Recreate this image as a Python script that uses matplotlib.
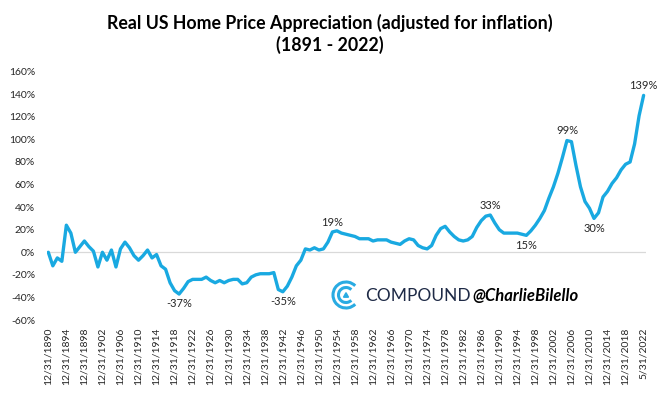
import numpy as np
import matplotlib
matplotlib.use("Agg")
import matplotlib.pyplot as plt
from matplotlib.patches import Arc, Polygon

# ==========================================
# DATA
# ==========================================
dates = [f"12/31/{y}" for y in range(1890, 2022)] + ["5/31/2022"]

real_appreciation = [
    0, -12, -5, -8, 24, 17, 0, 5, 10, 5,            # 1890-1899
    1, -13, 0, -7, 2, -13, 3, 9, 4, -3,             # 1900-1909
    -7, -3, 2, -5, -2, -12, -15, -27, -34, -37,     # 1910-1919
    -32, -26, -24, -24, -24, -22, -25, -27, -25, -27,  # 1920-1929
    -25, -24, -24, -28, -27, -22, -20, -19, -19, -19,  # 1930-1939
    -18, -33, -35, -30, -22, -12, -7, 3, 2, 4,      # 1940-1949
    2, 3, 9, 18, 19, 17, 16, 15, 14, 12,            # 1950-1959
    12, 12, 10, 11, 11, 11, 9, 8, 7, 10,            # 1960-1969
    12, 11, 6, 4, 3, 6, 15, 21, 23, 18,             # 1970-1979
    14, 11, 10, 11, 14, 22, 28, 32, 33, 26,         # 1980-1989
    20, 17, 17, 17, 17, 16, 15, 19, 24, 30,         # 1990-1999
    37, 48, 58, 70, 84, 99, 98, 77, 58, 45,         # 2000-2009
    39, 30, 35, 49, 54, 61, 66, 73, 78, 80,         # 2010-2019
    96, 121, 139,                                   # 2020, 2021, 5/2022
]

# points that carry a data label: (index, text, placement)
labelled = [(29, "-37%", "below"), (52, "-35%", "below"), (63, "19%", "above"),
            (98, "33%", "above"), (106, "15%", "below"), (115, "99%", "above"),
            (121, "30%", "below"), (132, "139%", "above")]

yticks = list(range(-60, 161, 20))

# ==========================================
# PLOT
# ==========================================
plt.rcParams["font.family"] = ["Lato", "DejaVu Sans"]
text_col = "#262626"
line_col = "#19A9E1"

fig = plt.figure(figsize=(6.6, 3.95), dpi=100)
W, H = 660, 395
ax = fig.add_axes([47 / W, (H - 320) / H, 599 / W, (320 - 71.7) / H])

x = np.arange(len(real_appreciation))
ax.axhline(0, color="#D9D9D9", lw=0.9, zorder=1)
ax.plot(x, real_appreciation, color=line_col, lw=2.4,
        solid_joinstyle="round", solid_capstyle="round", zorder=3)

ax.set_xlim(-0.29, 132.53)
ax.set_ylim(-60, 160)
ax.set_yticks(yticks)
ax.set_yticklabels([f"{v}%" for v in yticks])
tick_idx = list(range(0, len(dates), 4))
ax.set_xticks(tick_idx)
ax.set_xticklabels([dates[i] for i in tick_idx], rotation=90)
ax.tick_params(axis="both", length=0, labelsize=7.5, colors=text_col)
ax.tick_params(axis="y", pad=8.5)
ax.tick_params(axis="x", pad=5.5)
for s in ax.spines.values():
    s.set_visible(False)

for i, txt, where in labelled:
    dy = 3 if where == "above" else -3
    ax.annotate(txt, (i, real_appreciation[i]), xytext=(0, dy),
                textcoords="offset points", ha="center",
                va="bottom" if where == "above" else "top",
                fontsize=8, color=text_col, zorder=4)

fig.text(330 / W, 1 - 23 / H, "Real US Home Price Appreciation (adjusted for inflation)",
         ha="center", va="center", fontsize=12.8, fontweight="bold", color="black")
fig.text(330 / W, 1 - 45 / H, "(1891 - 2022)",
         ha="center", va="center", fontsize=12.8, fontweight="bold", color="black")

# watermark: Compound logo + handle
logo = fig.add_axes([331 / W, (H - 311) / H, 30 / W, 32 / H])
logo.set_xlim(-15, 15)
logo.set_ylim(-16, 16)
logo.set_aspect("equal")
logo.axis("off")
logo_col = "#29ABE2"
logo.add_patch(Arc((0, 0), 26, 26, theta1=45, theta2=315, color=logo_col, lw=2.2))
logo.add_patch(Arc((0, 0), 15, 15, theta1=45, theta2=315, color=logo_col, lw=2.2))
logo.add_patch(Polygon([[-2.5, -2.2], [2.5, -2.2], [0, 2.3]], closed=True,
                       color=logo_col))

fig.text(365 / W, 1 - 296 / H, "COMPOUND", ha="left", va="center",
         fontsize=12.5, color="#1E2A46")
fig.text(472 / W, 1 - 296 / H, "@CharlieBilello", ha="left", va="center",
         fontsize=12, fontweight="bold", fontstyle="italic", color="black")

fig.savefig("out.png", dpi=100)
